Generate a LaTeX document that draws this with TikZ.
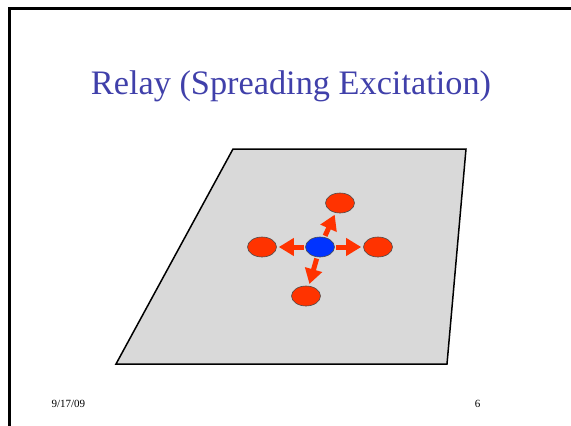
\documentclass[tikz,border=0pt]{standalone}
\usepackage{fontspec}
\setmainfont{Liberation Serif}
\usetikzlibrary{arrows.meta,shapes.geometric}
\definecolor{titleblue}{RGB}{64,64,170}
\definecolor{firered}{RGB}{255,51,0}
\definecolor{cellblue}{RGB}{0,51,255}
\tikzset{
  frame/.style={draw=black, line width=3pt},
  plane/.style={draw=black, fill=black!15, line width=1.5pt, line join=miter},
  cell/.style={ellipse, draw=black!70, line width=0.6pt, minimum width=29pt, minimum height=20pt, inner sep=0pt},
  idle/.style={cell, fill=firered},
  active/.style={cell, fill=cellblue},
  spread/.style={draw=firered, line width=5pt, arrows={-{Triangle[length=15pt 0,width=17pt 0]}}, shorten >=2pt, shorten <=1.5pt},
  title/.style={font=\fontsize{34.3}{34}\selectfont, text=titleblue},
  footer/.style={font=\fontsize{11}{11}\selectfont}
}

\begin{document}
\begin{tikzpicture}[x=1pt,y=-1pt]
  \useasboundingbox (0,0) rectangle (571,426);
  \draw[frame] (9.5,426) -- (9.5,8.5) -- (571,8.5);

  \node[title, anchor=base] at (291,94) (title) {Relay (Spreading Excitation)};

  % the sheet
  \draw[plane] (233,149) -- (466,149) -- (447,364) -- (116,364) -- cycle;

  \node[active] at (320,247) (centre) {};
  \node[idle] at (340,203) (up) {};
  \node[idle] at (262,247) (left) {};
  \node[idle] at (378,247) (right) {};
  \node[idle] at (306,296) (down) {};

  \draw[spread] (centre) -- (up);
  \draw[spread] (centre) -- (left);
  \draw[spread] (centre) -- (right);
  \draw[spread] (centre) -- (down);

  \node[footer, anchor=base west] at (48,407) (date) {9/17/09};
  \node[footer, anchor=base east] at (484,407) (page) {6};
\end{tikzpicture}
\end{document}
